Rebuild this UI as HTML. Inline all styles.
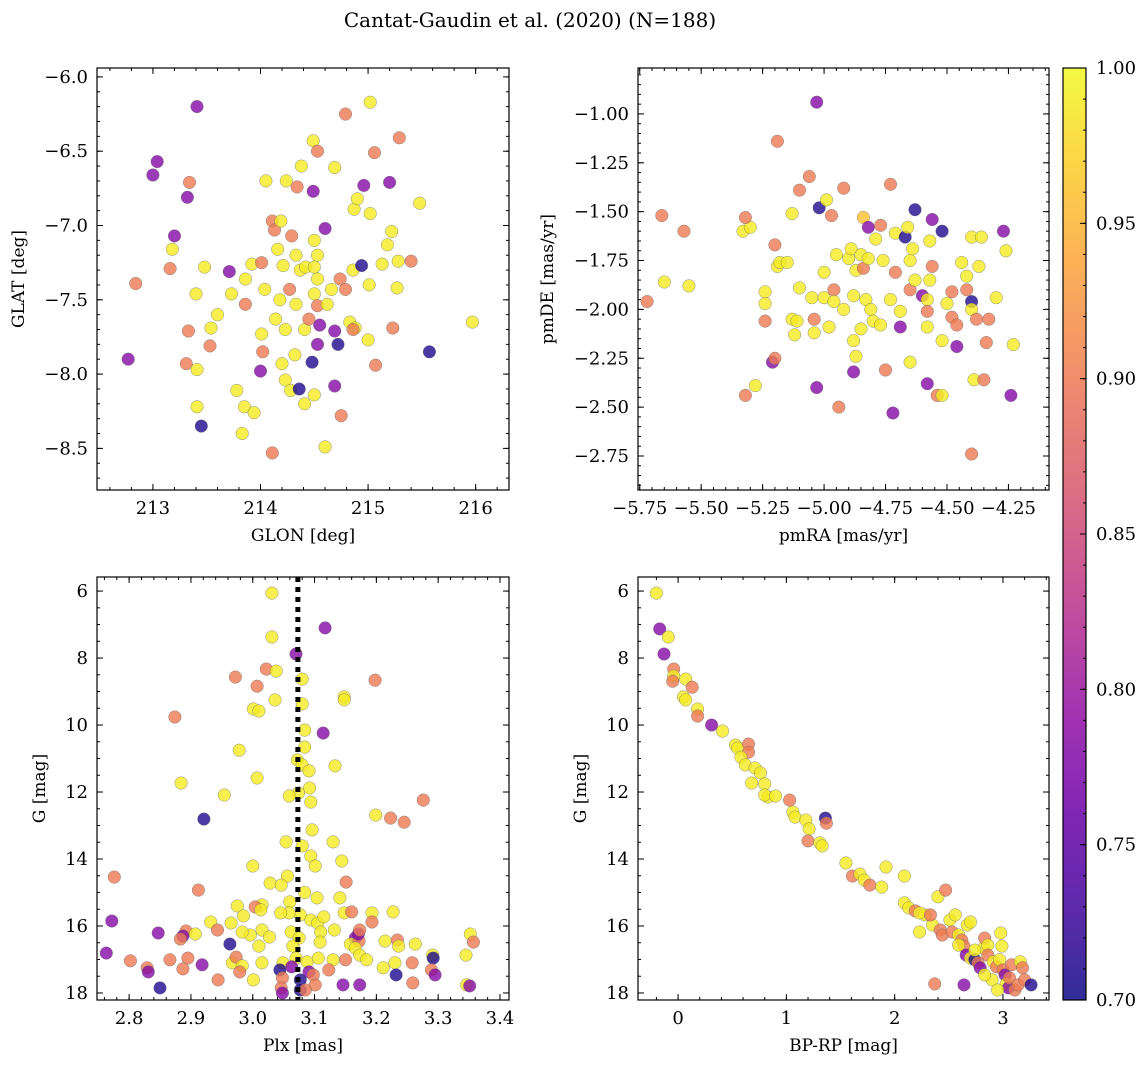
<!DOCTYPE html>
<html><head><meta charset="utf-8"><style>
html,body{margin:0;padding:0;background:#fff;}
svg{display:block;font-family:"DejaVu Serif","Liberation Serif",serif;}
</style></head><body>
<svg id="fig" width="1148" height="1067" xmlns="http://www.w3.org/2000/svg">
<text x="530" y="27" text-anchor="middle" font-size="20">Cantat-Gaudin et al. (2020) (N=188)</text>
</svg>
<script>
// ---- data (x, y, membership probability) ----
const skyGLON=[213.41,212.77,212.84,213.04,213.0,213.34,213.32,213.20,213.18,213.16,213.48,213.33,213.31,213.41,213.40,213.45,213.41,213.53,213.54,213.60,213.71,213.73,213.78,213.83,213.85,213.94,213.86,213.86,213.92,214.01,214.04,214.0,214.02,214.01,214.05,214.11,214.13,214.11,214.19,214.16,214.21,214.18,214.14,214.23,214.20,214.23,214.28,214.24,214.34,214.38,214.29,214.33,214.37,214.42,214.27,214.33,214.32,214.36,214.41,214.41,214.45,214.49,214.49,214.50,214.53,214.50,214.53,214.50,214.53,214.48,214.50,214.53,214.55,214.53,214.60,214.60,214.62,214.66,214.69,214.69,214.69,214.72,214.74,214.75,214.79,214.79,214.83,214.86,214.87,214.88,214.90,214.94,214.96,215.0,215.01,215.02,215.02,215.06,215.07,215.13,215.20,215.22,215.23,215.27,215.28,215.29,215.40,215.48,215.57,215.97,215.18,214.86];
const skyGLAT=[-6.20,-7.90,-7.39,-6.57,-6.66,-6.71,-6.81,-7.07,-7.16,-7.29,-7.28,-7.71,-7.93,-7.97,-7.46,-8.35,-8.22,-7.81,-7.69,-7.60,-7.31,-7.46,-8.11,-8.40,-8.22,-8.26,-7.53,-7.36,-7.26,-7.25,-7.43,-7.98,-7.85,-7.73,-6.70,-6.97,-7.03,-8.53,-6.97,-7.16,-7.27,-7.50,-7.63,-7.70,-7.93,-8.04,-8.11,-6.70,-6.74,-6.60,-7.07,-7.20,-7.30,-7.28,-7.43,-7.53,-7.87,-8.10,-8.20,-7.70,-7.63,-6.43,-6.77,-7.10,-7.20,-7.28,-7.36,-7.46,-6.50,-7.92,-8.14,-7.54,-7.67,-7.80,-7.02,-8.49,-7.53,-7.43,-6.61,-7.71,-8.08,-7.80,-7.36,-8.28,-6.25,-7.43,-7.65,-7.30,-6.89,-7.69,-6.82,-7.27,-6.73,-7.77,-7.40,-6.17,-6.92,-6.51,-7.94,-7.26,-6.71,-7.04,-7.69,-7.42,-7.24,-6.41,-7.24,-6.85,-7.85,-7.65,-7.13,-7.70];
const skyProb=[0.78,0.78,0.90,0.78,0.78,0.90,0.78,0.78,0.99,0.90,0.99,0.90,0.90,0.99,0.99,0.71,0.99,0.90,0.99,0.99,0.78,0.99,0.99,0.99,0.99,0.99,0.90,0.99,0.99,0.90,0.99,0.78,0.90,0.99,0.99,0.90,0.90,0.90,0.99,0.99,0.99,0.99,0.99,0.99,0.99,0.99,0.99,0.99,0.90,0.99,0.90,0.99,0.99,0.99,0.90,0.99,0.99,0.71,0.99,0.99,0.90,0.99,0.78,0.99,0.99,0.99,0.99,0.99,0.90,0.71,0.99,0.90,0.78,0.78,0.78,0.99,0.99,0.99,0.99,0.78,0.78,0.71,0.90,0.90,0.90,0.90,0.99,0.99,0.99,0.99,0.99,0.71,0.78,0.99,0.99,0.99,0.99,0.90,0.90,0.99,0.78,0.99,0.90,0.99,0.99,0.90,0.90,0.99,0.71,0.99,0.99,0.90];

const pmRA=[-5.72,-5.66,-5.65,-5.57,-5.55,-5.33,-5.30,-5.32,-5.32,-5.28,-5.24,-5.24,-5.24,-5.21,-5.20,-5.20,-5.19,-5.18,-5.19,-5.15,-5.13,-5.13,-5.11,-5.12,-5.10,-5.10,-5.06,-5.05,-5.04,-5.04,-5.03,-5.03,-5.02,-5.00,-5.00,-4.99,-4.98,-4.97,-4.96,-4.96,-4.95,-4.94,-4.92,-4.92,-4.90,-4.89,-4.88,-4.88,-4.87,-4.88,-4.87,-4.85,-4.85,-4.84,-4.84,-4.83,-4.82,-4.82,-4.81,-4.80,-4.79,-4.77,-4.77,-4.76,-4.75,-4.73,-4.73,-4.72,-4.71,-4.71,-4.69,-4.69,-4.67,-4.66,-4.65,-4.65,-4.65,-4.64,-4.63,-4.63,-4.60,-4.58,-4.58,-4.58,-4.57,-4.56,-4.57,-4.56,-4.58,-4.54,-4.52,-4.52,-4.52,-4.50,-4.48,-4.48,-4.46,-4.46,-4.44,-4.42,-4.42,-4.40,-4.40,-4.40,-4.40,-4.39,-4.38,-4.37,-4.36,-4.35,-4.34,-4.33,-4.30,-4.27,-4.26,-4.24,-4.23];
const pmDE=[-1.96,-1.52,-1.86,-1.60,-1.88,-1.60,-1.58,-1.53,-2.44,-2.39,-1.91,-1.97,-2.06,-2.27,-2.25,-1.67,-1.78,-1.76,-1.14,-1.76,-1.51,-2.05,-2.06,-2.13,-1.39,-1.89,-1.32,-1.94,-2.05,-2.12,-2.40,-0.94,-1.48,-1.81,-1.94,-1.44,-2.09,-1.52,-1.90,-1.96,-1.72,-2.50,-2.00,-1.38,-1.74,-1.69,-2.16,-2.32,-2.24,-1.93,-1.80,-1.72,-2.10,-1.53,-1.79,-1.95,-1.74,-1.58,-2.00,-2.06,-1.64,-1.57,-2.08,-1.75,-2.31,-1.36,-1.95,-2.53,-1.81,-1.61,-2.01,-2.09,-1.63,-1.58,-1.90,-2.27,-1.75,-1.69,-1.49,-1.85,-1.93,-1.95,-2.09,-2.01,-1.85,-1.78,-1.65,-1.54,-2.38,-2.44,-2.44,-1.60,-2.16,-1.97,-1.91,-2.04,-2.08,-2.19,-1.76,-1.83,-1.90,-1.96,-2.00,-1.63,-2.74,-2.36,-2.05,-1.78,-1.63,-2.36,-2.17,-2.05,-1.94,-1.60,-1.70,-2.44,-2.18];
const pmProb=[0.90,0.90,0.99,0.90,0.99,0.99,0.99,0.90,0.90,0.99,0.99,0.99,0.90,0.78,0.90,0.90,0.99,0.99,0.90,0.99,0.99,0.99,0.99,0.99,0.90,0.99,0.90,0.99,0.90,0.99,0.78,0.78,0.71,0.99,0.99,0.99,0.99,0.90,0.90,0.99,0.99,0.90,0.99,0.90,0.99,0.99,0.99,0.78,0.99,0.99,0.99,0.99,0.99,0.96,0.90,0.99,0.99,0.78,0.99,0.99,0.99,0.90,0.99,0.99,0.90,0.90,0.99,0.78,0.90,0.99,0.99,0.78,0.71,0.99,0.90,0.99,0.99,0.99,0.71,0.99,0.78,0.99,0.99,0.90,0.99,0.90,0.99,0.78,0.78,0.90,0.99,0.71,0.99,0.99,0.90,0.90,0.90,0.78,0.99,0.99,0.90,0.71,0.99,0.99,0.90,0.99,0.90,0.99,0.99,0.90,0.90,0.90,0.99,0.78,0.99,0.78,0.99];

const plx=[3.031,3.031,3.117,3.070,3.022,3.038,2.972,3.080,3.007,3.198,3.148,3.148,3.036,3.001,3.010,3.080,2.874,3.114,3.084,3.084,2.978,3.072,3.080,2.884,3.007,3.133,3.091,3.092,3.074,3.059,2.954,3.094,2.921,3.199,3.223,3.245,3.276,3.096,3.130,3.054,3.080,3.094,3.144,3.101,3.000,3.056,3.028,3.046,3.151,2.776,2.912,3.084,3.104,3.141,3.060,3.015,3.004,3.013,2.975,3.077,3.059,3.045,2.985,3.094,3.105,3.115,3.148,3.160,3.193,3.193,3.227,2.772,2.932,2.965,2.943,3.015,3.062,3.110,3.132,2.996,2.892,2.887,2.847,2.907,2.983,3.027,3.075,3.166,3.109,3.158,3.172,3.214,3.234,3.263,3.171,3.173,3.166,3.236,3.173,2.883,2.963,3.065,3.010,3.352,3.357,3.291,3.292,2.763,2.802,2.866,2.895,2.918,2.967,2.973,2.983,3.015,3.049,3.070,3.088,3.106,3.130,3.150,3.184,3.230,3.258,3.345,2.829,2.831,2.887,2.979,3.044,3.063,3.091,3.098,3.123,3.211,3.232,3.289,3.295,2.944,3.001,3.048,3.077,3.101,3.146,3.173,3.259,3.346,3.351,2.850,3.046,3.077,3.048,3.085];
const plxG=[6.06,7.37,7.10,7.88,8.33,8.39,8.57,8.63,8.84,8.66,9.16,9.25,9.25,9.52,9.58,9.37,9.76,10.24,10.15,10.66,10.75,11.04,11.19,11.73,11.58,11.22,11.37,11.88,12.03,12.12,12.09,12.30,12.81,12.69,12.78,12.90,12.24,13.13,13.49,13.49,13.61,13.91,14.06,14.21,14.21,14.51,14.72,14.78,14.69,14.54,14.93,15.00,15.16,15.16,15.28,15.37,15.43,15.52,15.40,15.67,15.61,15.61,15.70,15.82,15.91,15.73,15.61,15.58,15.61,15.88,15.58,15.85,15.88,15.91,16.12,16.12,16.18,16.18,16.12,16.27,16.15,16.30,16.21,16.24,16.18,16.33,16.36,16.36,16.48,16.54,16.45,16.45,16.42,16.54,16.24,16.12,16.66,16.60,16.87,16.39,16.54,16.60,16.60,16.24,16.48,16.87,16.96,16.81,17.04,17.01,16.96,17.16,17.10,16.93,17.19,17.10,17.10,16.96,17.07,16.96,17.01,17.01,17.01,17.10,17.10,16.87,17.25,17.37,17.28,17.37,17.31,17.22,17.37,17.46,17.31,17.25,17.46,17.31,17.46,17.61,17.61,17.55,17.61,17.76,17.76,17.76,17.70,17.76,17.79,17.85,17.85,17.91,18.00,17.91];
const plxProb=[0.99,0.99,0.78,0.78,0.90,0.99,0.90,0.99,0.90,0.90,0.99,0.99,0.99,0.99,0.99,0.99,0.90,0.78,0.99,0.99,0.99,0.99,0.99,0.99,0.99,0.99,0.99,0.99,0.99,0.99,0.99,0.99,0.71,0.99,0.90,0.90,0.90,0.99,0.99,0.99,0.99,0.99,0.99,0.99,0.99,0.99,0.99,0.99,0.90,0.90,0.90,0.99,0.99,0.99,0.99,0.99,0.90,0.99,0.99,0.99,0.99,0.99,0.99,0.99,0.99,0.99,0.99,0.90,0.99,0.90,0.99,0.78,0.99,0.99,0.90,0.99,0.99,0.99,0.99,0.99,0.90,0.78,0.78,0.99,0.99,0.99,0.99,0.78,0.99,0.99,0.90,0.99,0.90,0.99,0.78,0.90,0.99,0.99,0.99,0.90,0.71,0.99,0.99,0.99,0.90,0.99,0.71,0.78,0.90,0.90,0.90,0.78,0.99,0.90,0.99,0.99,0.99,0.99,0.99,0.99,0.99,0.90,0.99,0.99,0.90,0.99,0.90,0.78,0.90,0.90,0.71,0.78,0.78,0.90,0.90,0.99,0.71,0.90,0.78,0.90,0.99,0.90,0.71,0.90,0.78,0.78,0.90,0.99,0.78,0.71,0.90,0.71,0.78,0.90];

const bprp=[-0.20,-0.17,-0.09,-0.13,-0.04,-0.04,-0.05,0.07,0.13,0.05,0.07,0.18,0.18,0.31,0.41,0.53,0.55,0.65,0.65,0.58,0.62,0.71,0.76,0.68,0.80,0.83,0.80,0.90,1.03,1.06,1.08,1.18,1.21,1.20,1.36,1.37,1.31,1.33,1.55,1.61,1.68,1.72,1.77,1.88,1.92,2.09,2.09,2.13,2.19,2.23,2.28,2.35,2.42,2.40,2.47,2.44,2.51,2.53,2.59,2.62,2.64,2.67,2.70,2.66,2.70,2.74,2.77,2.79,2.82,2.83,2.86,2.86,2.91,2.94,2.97,2.98,2.99,3.00,3.02,3.03,3.05,3.06,3.08,3.11,3.14,3.16,3.18,3.20,3.26,2.64,2.37,2.90,2.95,2.83,2.74,2.59,2.23,2.33,2.56];
const cmdG=[6.06,7.13,7.37,7.88,8.33,8.54,8.69,8.63,8.87,9.16,9.25,9.52,9.73,10.00,10.18,10.60,10.69,10.57,10.81,10.96,11.19,11.28,11.43,11.73,11.76,12.15,12.09,12.12,12.24,12.60,12.75,12.84,13.10,13.46,12.78,12.93,13.52,13.61,14.12,14.51,14.45,14.63,14.78,14.84,14.24,14.51,15.31,15.46,15.55,16.18,15.67,15.97,16.12,15.13,14.93,16.27,15.82,16.18,16.27,16.42,16.60,15.97,15.88,16.87,16.96,17.01,17.10,17.25,16.66,16.36,16.57,16.87,17.07,17.22,17.01,16.21,16.60,17.31,17.46,17.73,17.85,17.55,17.16,17.91,17.76,17.07,17.25,17.61,17.76,17.76,17.73,17.61,17.91,17.46,16.72,16.57,15.61,15.67,15.67];
const cmdProb=[0.99,0.78,0.99,0.78,0.90,0.99,0.90,0.99,0.90,0.99,0.99,0.99,0.90,0.78,0.99,0.99,0.99,0.90,0.90,0.99,0.99,0.99,0.99,0.99,0.99,0.99,0.99,0.99,0.90,0.99,0.99,0.99,0.99,0.90,0.71,0.90,0.99,0.99,0.99,0.90,0.99,0.99,0.90,0.99,0.99,0.99,0.99,0.99,0.90,0.99,0.99,0.99,0.90,0.99,0.90,0.90,0.99,0.90,0.99,0.90,0.90,0.99,0.99,0.78,0.99,0.71,0.90,0.78,0.99,0.90,0.99,0.90,0.99,0.90,0.99,0.99,0.99,0.90,0.78,0.99,0.78,0.90,0.90,0.90,0.90,0.99,0.90,0.90,0.71,0.78,0.90,0.99,0.99,0.99,0.99,0.99,0.99,0.90,0.99];

const cbTicks=[0.70,0.75,0.80,0.85,0.90,0.95,1.00];
const plxMedian=3.073;

const NS='http://www.w3.org/2000/svg';
const svg=document.getElementById('fig');
function mk(tag,attrs,parent){const e=document.createElementNS(NS,tag);for(const k in attrs)e.setAttribute(k,attrs[k]);(parent||svg).appendChild(e);return e;}
const stops=[[13,8,135],[65,4,157],[106,0,168],[143,13,164],[177,42,144],[204,71,120],[225,100,98],[242,132,75],[252,166,54],[252,206,37],[240,249,33]];
function plasma(t){t=Math.max(0,Math.min(1,t));const f=t*10,i=Math.min(9,Math.floor(f)),r=f-i;const a=stops[i],b=stops[i+1];return `rgb(${Math.round(a[0]+(b[0]-a[0])*r)},${Math.round(a[1]+(b[1]-a[1])*r)},${Math.round(a[2]+(b[2]-a[2])*r)})`;}
function col(p){return plasma((p-0.7)/0.3);}
function fmt(v,d){const s=Math.abs(v).toFixed(d);return (v<-1e-9?'\u2212':'')+s;}
const FS=18, LS=17;

function panel(o){
  const g=mk('g',{});
  
  
  const X=v=>o.L+(v-o.x0)/(o.x1-o.x0)*(o.R-o.L);
  const Y=o.invY? v=>o.T+(v-o.y0)/(o.y1-o.y0)*(o.B-o.T) : v=>o.B-(v-o.y0)/(o.y1-o.y0)*(o.B-o.T);
  const clip='c'+o.name;
  const cp=mk('clipPath',{id:clip},g);mk('rect',{x:o.L,y:o.T,width:o.R-o.L,height:o.B-o.T},cp);
  const pg=mk('g',{'clip-path':`url(#${clip})`},g);
  for(let i=0;i<o.xs.length;i++){
    const c=mk('circle',{cx:X(o.xs[i]).toFixed(1),cy:Y(o.ys[i]).toFixed(1),r:6.3,fill:col(o.ps[i]),'fill-opacity':0.8,stroke:'#666','stroke-width':0.5,'stroke-opacity':0.7},pg);
    
    
  }
  if(o.vline!==undefined){
    const l=mk('line',{x1:X(o.vline),x2:X(o.vline),y1:o.T,y2:o.B,stroke:'#000','stroke-width':5,'stroke-dasharray':'5,5'},pg);
    
    
  }
  const fr=mk('rect',{x:o.L,y:o.T,width:o.R-o.L,height:o.B-o.T,fill:'none',stroke:'#000','stroke-width':1.2},g);
  
  
  const tk=(v0,v1,step)=>{const a=[];const s=Math.ceil((v0-1e-9)/step);for(let k=s;k*step<=v1+1e-9;k++)a.push(+(k*step).toFixed(6));return a;};
  const xlo=Math.min(o.x0,o.x1),xhi=Math.max(o.x0,o.x1),ylo=Math.min(o.y0,o.y1),yhi=Math.max(o.y0,o.y1);
  tk(xlo,xhi,o.xminor).forEach(v=>{const x=X(v);mk('line',{x1:x,x2:x,y1:o.B,y2:o.B-3,stroke:'#000'},g);mk('line',{x1:x,x2:x,y1:o.T,y2:o.T+3,stroke:'#000'},g);});
  tk(ylo,yhi,o.yminor).forEach(v=>{const y=Y(v);mk('line',{x1:o.L,x2:o.L+3,y1:y,y2:y,stroke:'#000'},g);mk('line',{x1:o.R,x2:o.R-3,y1:y,y2:y,stroke:'#000'},g);});
  tk(xlo,xhi,o.xmajor).forEach(v=>{const x=X(v);mk('line',{x1:x,x2:x,y1:o.B,y2:o.B-6,stroke:'#000'},g);mk('line',{x1:x,x2:x,y1:o.T,y2:o.T+6,stroke:'#000'},g);
    const t=mk('text',{x:x,y:o.B+24,'text-anchor':'middle','font-size':FS},g);t.textContent=fmt(v,o.xd);
    
    });
  tk(ylo,yhi,o.ymajor).forEach(v=>{const y=Y(v);mk('line',{x1:o.L,x2:o.L+6,y1:y,y2:y,stroke:'#000'},g);mk('line',{x1:o.R,x2:o.R-6,y1:y,y2:y,stroke:'#000'},g);
    const t=mk('text',{x:o.L-9,y:y+6,'text-anchor':'end','font-size':FS},g);t.textContent=fmt(v,o.yd);
    
    });
  const xl=mk('text',{x:(o.L+o.R)/2,y:o.B+51,'text-anchor':'middle','font-size':LS},g);xl.textContent=o.xlabel;
  
  
  const yl=mk('text',{x:0,y:0,'text-anchor':'middle','font-size':LS,transform:`translate(${o.ylx},${(o.T+o.B)/2}) rotate(-90)`},g);yl.textContent=o.ylabel;
  
  
}
panel({name:'sky-position-panel',L:97,R:509,T:68,B:490,x0:212.48,x1:216.31,y0:-8.78,y1:-5.94,xs:skyGLON,ys:skyGLAT,ps:skyProb,xmajor:1,xminor:0.2,ymajor:0.5,yminor:0.1,xd:0,yd:1,xlabel:'GLON [deg]',ylabel:'GLAT [deg]',ylx:24});
panel({name:'proper-motion-panel',L:638,R:1049,T:68,B:490,x0:-5.757,x1:-4.085,y0:-2.924,y1:-0.765,xs:pmRA,ys:pmDE,ps:pmProb,xmajor:0.25,xminor:0.05,ymajor:0.25,yminor:0.05,xd:2,yd:2,xlabel:'pmRA [mas/yr]',ylabel:'pmDE [mas/yr]',ylx:553});
panel({name:'parallax-magnitude-panel',L:97,R:509,T:577,B:1000,x0:2.748,x1:3.4146,y0:5.58,y1:18.21,invY:true,xs:plx,ys:plxG,ps:plxProb,xmajor:0.1,xminor:0.02,ymajor:2,yminor:0.5,xd:1,yd:0,xlabel:'Plx [mas]',ylabel:'G [mag]',ylx:45,vline:plxMedian});
panel({name:'color-magnitude-panel',L:638,R:1049,T:577,B:1000,x0:-0.37,x1:3.425,y0:5.58,y1:18.21,invY:true,xs:bprp,ys:cmdG,ps:cmdProb,xmajor:1,xminor:0.2,ymajor:2,yminor:0.5,xd:0,yd:0,xlabel:'BP-RP [mag]',ylabel:'G [mag]',ylx:586});

const cb=mk('g',{});


const defs=mk('defs',{},cb);const lg=mk('linearGradient',{id:'pg',x1:0,y1:1,x2:0,y2:0},defs);
for(let i=0;i<=20;i++){mk('stop',{offset:i/20,'stop-color':plasma(i/20),'stop-opacity':0.85},lg);}
const cT=68,cB=1000,cL=1063,cR=1086;
mk('rect',{x:cL,y:cT,width:cR-cL,height:cB-cT,fill:'url(#pg)',stroke:'#000','stroke-width':1.2},cb);
const CY=v=>cB-(v-0.7)/0.3*(cB-cT);
for(let k=0;k<=30;k++){const y=CY(0.7+k*0.01);mk('line',{x1:cR,x2:cR-3,y1:y,y2:y,stroke:'#000'},cb);}
cbTicks.forEach(v=>{const y=CY(v);mk('line',{x1:cR,x2:cR-6,y1:y,y2:y,stroke:'#000'},cb);
  const t=mk('text',{x:cR+10,y:y+6,'font-size':FS},cb);t.textContent=v.toFixed(2);
  
  });
</script>
</body></html>
